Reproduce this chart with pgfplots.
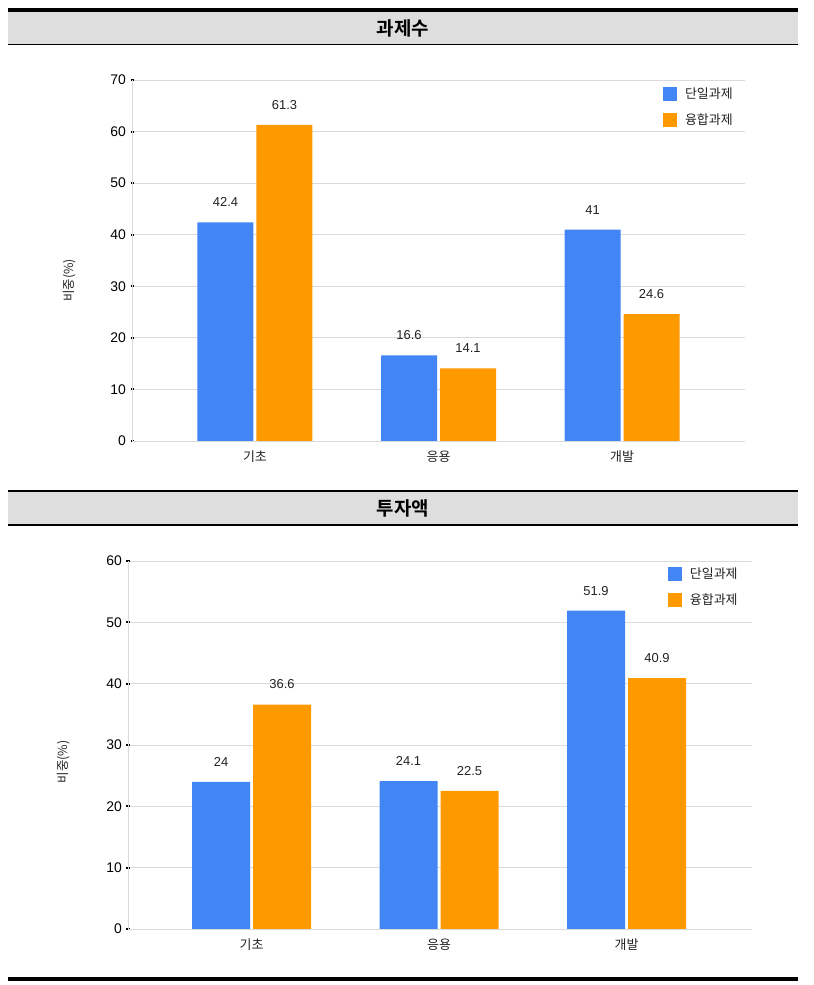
\documentclass[border=0pt]{standalone}
\usepackage{fontspec}
\setmainfont{Liberation Sans}
\newfontfamily\kr{Noto Sans CJK KR}
\newfontfamily\krbold{Noto Sans CJK KR Bold}
\usepackage{pgfplots}
\pgfplotsset{compat=1.18}
\definecolor{gblue}{HTML}{4285F4}
\definecolor{gorange}{HTML}{FF9900}
\definecolor{band}{HTML}{DEDEDE}
\definecolor{gridc}{HTML}{DADADA}
\definecolor{txt}{HTML}{222222}

\pgfplotsset{
  panel/.style={
    scale only axis,
    /pgf/number format/assume math mode=true,
    axis x line*=bottom, axis y line*=left,
    axis line style={draw=gridc, line width=0.9bp},
    ymajorgrids, grid style={draw=gridc, line width=0.8bp},
    xtick={0,1,2},
    xticklabels={{\kr 기초},{\kr 응용},{\kr 개발}},
    xticklabel style={font=\fontsize{13}{13}\selectfont, text=txt, yshift=-3bp},
    major x tick style={draw=none},
    ytick distance=10,
    yticklabel style={font=\fontsize{14}{14}\selectfont, text=black, xshift=-1bp},
    major y tick style={draw=black, line width=2bp},
    major tick length=3bp, tick align=center,
    ylabel={\kr 비중(\%)},
    ylabel style={font=\fontsize{12.5}{12.5}\selectfont, text=txt},
    nodes near coords,
    nodes near coords style={font=\fontsize{13}{13}\selectfont, text=txt, yshift=12bp},
    legend style={draw=none, fill=none, inner sep=0pt, nodes={inner sep=0pt},
      column sep=8bp, row sep=12bp, font=\kr\fontsize{13}{13}\selectfont, text=txt},
    legend cell align=left,
    ymin=0,
    clip=false,
  }
}

\begin{document}
\begin{tikzpicture}
\useasboundingbox (0,0) rectangle (814bp,985bp);
\fill[white] (0,0) rectangle (814bp,985bp);
% panel 1 header
\fill[band] (8bp,941bp) rectangle (798bp,973bp);
\fill[black] (8bp,973bp) rectangle (798bp,977bp);
\draw[black, line width=1.3bp] (8bp,940.5bp) -- (798bp,940.5bp);
\node[font=\krbold\fontsize{19}{19}\selectfont] at (403bp,957bp) {과제수};
% panel 2 header
\fill[band] (8bp,460bp) rectangle (798bp,494bp);
\draw[black, line width=1.3bp] (8bp,494bp) -- (798bp,494bp);
\draw[black, line width=1.3bp] (8bp,460bp) -- (798bp,460bp);
\node[font=\krbold\fontsize{19}{19}\selectfont] at (403bp,477bp) {투자액};
% bottom line
\fill[black] (8bp,4bp) rectangle (798bp,7.5bp);

\begin{axis}[panel,
  at={(132bp,544bp)}, anchor=south west,
  width=613bp, height=361bp,
  ymax=70, xmin=-0.670, xmax=2.670,
  ybar=3bp, bar width=56bp,
  ylabel style={at={(axis description cs:-0.086,0.445)}},
  legend style={at={(axis description cs:0.866,0.981)}, anchor=north west},
]
\addplot[fill=gblue, draw=none,
  legend image code/.code={\fill[gblue] (0bp,-7bp) rectangle (14bp,7bp);}]
  coordinates {(0,42.4) (1,16.6) (2,41)};
\addplot[fill=gorange, draw=none,
  legend image code/.code={\fill[gorange] (0bp,-7bp) rectangle (14bp,7bp);}]
  coordinates {(0,61.3) (1,14.1) (2,24.6)};
\legend{단일과제,융합과제}
\end{axis}

\begin{axis}[panel,
  at={(128bp,56bp)}, anchor=south west,
  width=624bp, height=368bp,
  ymax=60, xmin=-0.659, xmax=2.669,
  ybar=3bp, bar width=58bp,
  ylabel style={at={(axis description cs:-0.088,0.454)}},
  legend style={at={(axis description cs:0.865,0.984)}, anchor=north west},
]
\addplot[fill=gblue, draw=none,
  legend image code/.code={\fill[gblue] (0bp,-7bp) rectangle (14bp,7bp);}]
  coordinates {(0,24) (1,24.1) (2,51.9)};
\addplot[fill=gorange, draw=none,
  legend image code/.code={\fill[gorange] (0bp,-7bp) rectangle (14bp,7bp);}]
  coordinates {(0,36.6) (1,22.5) (2,40.9)};
\legend{단일과제,융합과제}
\end{axis}
\end{tikzpicture}
\end{document}
